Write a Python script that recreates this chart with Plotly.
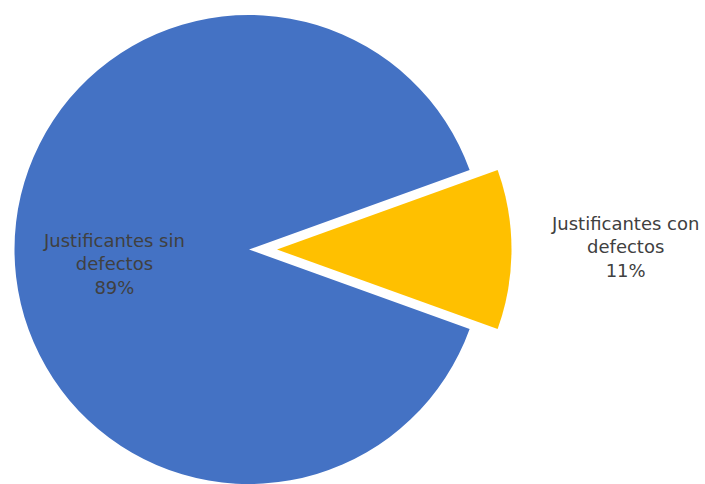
import plotly.graph_objects as go

labels = ["Justificantes con defectos", "Justificantes sin defectos"]
values = [11, 89]
colors = ["#FFC000", "#4472C4"]
label_text = ["Justificantes con<br>defectos<br>11%", "Justificantes sin<br>defectos<br>89%"]

W, H = 705, 484
r = 234.5
cx_main = 249
pull_px = 28
cy = 249.5
y0 = 1 - (cy + r) / H
y1 = 1 - (cy - r) / H

def xdom(cx):
    return [(cx - r) / W, (cx + r) / W]

common = dict(labels=labels, values=values, sort=False, direction="clockwise",
              rotation=90 - 360 * values[0] / sum(values) / 2,
              textinfo="none", showlegend=False)

fig = go.Figure()
# Blue (main) slice
fig.add_trace(go.Pie(**common,
                     marker=dict(colors=["rgba(0,0,0,0)", colors[1]], line=dict(width=0)),
                     domain=dict(x=xdom(cx_main), y=[y0, y1]), hoverinfo="label+percent"))
# Exploded yellow slice
fig.add_trace(go.Pie(**common,
                     marker=dict(colors=[colors[0], "rgba(0,0,0,0)"], line=dict(width=0)),
                     domain=dict(x=xdom(cx_main + pull_px), y=[y0, y1]), hoverinfo="label+percent"))

font = dict(family="DejaVu Sans", size=18, color="#404040")
fig.add_annotation(x=625 / W, y=1 - 247 / H, xref="paper", yref="paper", text=label_text[0],
                   showarrow=False, font=font, align="center", xanchor="center", yanchor="middle")
fig.add_annotation(x=114 / W, y=1 - 264 / H, xref="paper", yref="paper", text=label_text[1],
                   showarrow=False, font=font, align="center", xanchor="center", yanchor="middle")

fig.update_layout(width=W, height=H, margin=dict(l=0, r=0, t=0, b=0),
                  paper_bgcolor="white", plot_bgcolor="white")
fig.write_html("out.html")
